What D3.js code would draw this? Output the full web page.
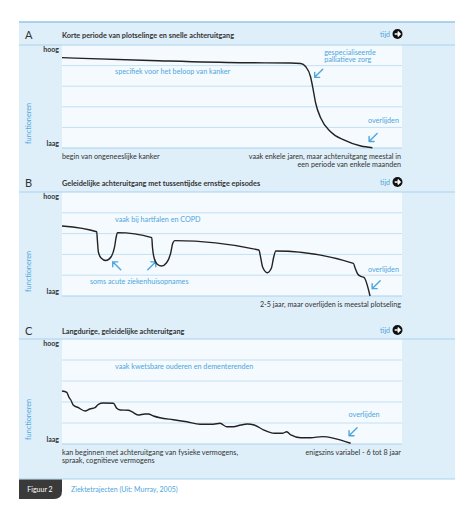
<!DOCTYPE html>
<html>
<head>
<meta charset="utf-8">
<script src="https://cdn.jsdelivr.net/npm/d3@7"></script>
<style>
  body { margin: 0; background: #fff; }
  text { font-family: Lato, "Noto Sans", sans-serif; }
</style>
</head>
<body>
<div id="chart"></div>
<script>
// --- data (t = tijd 0..100, v = functioneren 0..100) ---
const letters = ["A", "B", "C"];
const titles = [
  "Korte periode van plotselinge en snelle achteruitgang",
  "Geleidelijke achteruitgang met tussentijdse ernstige episodes",
  "Langdurige, geleidelijke achteruitgang"
];
const leftCaptions = [
  ["begin van ongeneeslijke kanker"],
  [],
  ["kan beginnen met achteruitgang van fysieke vermogens,", "spraak, cognitieve vermogens"]
];
const rightCaptions = [
  ["vaak enkele jaren, maar achteruitgang meestal in", "een periode van enkele maanden"],
  ["2-5 jaar, maar overlijden is meestal plotseling"],
  ["enigszins variabel - 6 tot 8 jaar"]
];
const yLabels = ["hoog", "laag"];

const seriesA = [
  [0, 87.7], [25.9, 85.0], [52.4, 82.8], [67.1, 82.5], [70.2, 82.0], [71.7, 78.9],
  [73.1, 69.2], [73.9, 56.3], [74.6, 43.7], [76.1, 29.1], [79.0, 15.8], [82.9, 7.8],
  [87.9, 1.9], [91.3, 0.3]
];
const seriesB = [
  [0, 67.3], [10.2, 61.8], [10.4, 53.8], [10.7, 42.3], [11.5, 36.5], [12.9, 34.1],
  [14.4, 37.5], [15.4, 46.2], [16.0, 57.7], [16.3, 60.9], [26.4, 56.1], [26.6, 47.1],
  [27.1, 36.5], [28.1, 30.3], [29.3, 28.8], [30.7, 31.7], [31.9, 40.4], [32.6, 51.0],
  [33.2, 53.2], [57.9, 44.2], [58.4, 37.5], [59.0, 27.9], [60.4, 22.4], [61.6, 26.9],
  [62.2, 36.5], [62.9, 43.3], [85.7, 31.4], [86.2, 26.9], [86.9, 21.6], [87.9, 18.8],
  [88.8, 18.0], [90.6, 0]
];
const seriesC = [
  [0, 50.5], [1.4, 49.2], [2.1, 44.1], [2.6, 41.9], [3.3, 37.1], [4.8, 34.6], [6.8, 31.4],
  [8.2, 33.3], [9.7, 34.6], [10.7, 37.8], [12.1, 39.0], [15.1, 38.8], [16.1, 34.0],
  [17.1, 32.4], [19.5, 32.1], [20.5, 30.8], [22.4, 27.6], [24.4, 28.6], [25.4, 28.6],
  [26.9, 26.7], [28.8, 25.0], [32.7, 23.1], [36.7, 21.2], [40.6, 18.8], [44.5, 18.8],
  [46.5, 19.7], [48.4, 16.5], [50.4, 16.5], [52.6, 18.1], [54.5, 19.0], [56.5, 18.1],
  [59.4, 13.3], [62.4, 10.2], [64.8, 10.2], [66.1, 11.7], [67.3, 8.6], [70.2, 6.0],
  [73.1, 6.0], [76.6, 7.0], [80.0, 5.4], [84.9, 0.7]
];
const series = [seriesA, seriesB, seriesC];

// annotations: [t, v, text lines, anchor]
const notes = [
  [[15.6, 71.8, ["specifiek voor het beloop van kanker"], "start"],
   [77.1, 90.3, ["gespecialiseerde", "palliatieve zorg"], "start"],
   [99.1, 24.0, ["overlijden"], "end"]],
  [[15.6, 70.8, ["vaak bij hartfalen en COPD"], "start"],
   [8.2, 11.5, ["soms acute ziekenhuisopnames"], "start"],
   [99.1, 23.4, ["overlijden"], "end"]],
  [[15.6, 71.4, ["vaak kwetsbare ouderen en dementerenden"], "start"],
   [93.4, 25.4, ["overlijden"], "end"]]
];
// arrows: [t, v, direction]
const arrows = [
  [[75.5, 72.5, "sw"], [91.5, 10.2, "sw"]],
  [[16.1, 29.0, "nw"], [26.4, 29.0, "ne"], [92.4, 10.9, "sw"]],
  [[85.6, 11.7, "sw"]]
];

const footerTab = "Figuur 2";
const footerText = "Ziektetrajecten (Uit: Murray, 2005)";

// --- layout ---
const W = 474, H = 513;
const boxL = 19, boxR = 455, plotL = 62, plotR = 402;
const panels = [
  { top: 22, plotTop: 45, plotBot: 148 },
  { top: 170, plotTop: 192, plotBot: 296 },
  { top: 318, plotTop: 339, plotBot: 444 }
];
const boxBottom = 479;

const dark = "#333";
const blue = "#4ea6dd";
const gridCol = "#c3e0f3";

const svg = d3.select("#chart").append("svg")
  .attr("width", W).attr("height", H)
  .attr("viewBox", `0 0 ${W} ${H}`);

svg.append("rect")
  .attr("x", boxL).attr("y", 22)
  .attr("width", boxR - boxL).attr("height", boxBottom - 22)
  .attr("fill", "#deeffa");
svg.append("line")
  .attr("x1", boxL).attr("x2", boxR).attr("y1", 22).attr("y2", 22)
  .attr("stroke", "#93c6e6").attr("stroke-width", 1.6);
svg.append("line")
  .attr("x1", boxL).attr("x2", boxR).attr("y1", boxBottom).attr("y2", boxBottom)
  .attr("stroke", "#a9d3ef").attr("stroke-width", 1);

const x = d3.scaleLinear().domain([0, 100]).range([plotL, plotR]);

function arrowPath(cx, cy, dir) {
  const s = 4, h = 5;
  const dx = dir.includes("e") ? 1 : -1;
  const dy = dir.includes("s") ? 1 : -1;
  const tipX = cx + dx * s, tipY = cy + dy * s;
  return `M${cx - dx * s},${cy - dy * s}L${tipX},${tipY}` +
    `M${tipX},${tipY - dy * h}L${tipX},${tipY}L${tipX - dx * h},${tipY}`;
}

panels.forEach((p, i) => {
  const g = svg.append("g");
  const y = d3.scaleLinear().domain([0, 100]).range([p.plotBot, p.plotTop]);

  // plot background
  g.append("rect")
    .attr("x", plotL).attr("y", p.plotTop)
    .attr("width", plotR - plotL).attr("height", p.plotBot - p.plotTop)
    .attr("fill", "#f5fafe");

  // grid
  g.append("g")
    .selectAll("line")
    .data([20, 40, 60, 80])
    .join("line")
    .attr("x1", plotL).attr("x2", plotR)
    .attr("y1", d => y(d)).attr("y2", d => y(d))
    .attr("stroke", gridCol).attr("stroke-width", 1);
  g.append("g")
    .selectAll("line")
    .data([0, 100])
    .join("line")
    .attr("x1", d => d === 100 ? boxL : plotL).attr("x2", d => d === 100 ? boxR : plotR)
    .attr("y1", d => y(d)).attr("y2", d => y(d))
    .attr("stroke", "#a8d2ee").attr("stroke-width", 1.2);

  // header
  g.append("text")
    .attr("x", 25).attr("y", p.top + 17)
    .attr("font-size", 11).attr("fill", dark)
    .text(letters[i]);
  g.append("text")
    .attr("x", plotL).attr("y", p.top + 15.5)
    .attr("font-size", 7.3).attr("font-weight", "bold").attr("fill", dark)
    .text(titles[i]);
  g.append("text")
    .attr("x", 390).attr("y", p.top + 14.5)
    .attr("text-anchor", "end")
    .attr("font-size", 7).attr("fill", blue)
    .text("tijd");
  const ac = g.append("g").attr("transform", `translate(397.5,${p.top + 12})`);
  ac.append("circle").attr("r", 5).attr("fill", "#111");
  ac.append("path")
    .attr("d", "M-2.8,0H2.5M0.2,-2.4L2.6,0L0.2,2.4")
    .attr("fill", "none").attr("stroke", "#fff").attr("stroke-width", 1.5);

  // y labels
  g.append("text")
    .attr("x", 59).attr("y", p.plotTop + 6.5)
    .attr("text-anchor", "end").attr("font-size", 7).attr("font-weight", "bold").attr("fill", dark)
    .text(yLabels[0]);
  g.append("text")
    .attr("x", 59).attr("y", p.plotBot - 2.5)
    .attr("text-anchor", "end").attr("font-size", 7).attr("font-weight", "bold").attr("fill", dark)
    .text(yLabels[1]);
  g.append("text")
    .attr("transform", `translate(31,${p.plotBot - 4}) rotate(-90)`)
    .attr("font-size", 7.3).attr("fill", blue)
    .text("functioneren");

  // captions
  g.append("g").selectAll("text")
    .data(leftCaptions[i])
    .join("text")
    .attr("x", plotL).attr("y", (d, k) => p.plotBot + 11 + k * 8)
    .attr("font-size", 7.2).attr("fill", dark)
    .text(d => d);
  g.append("g").selectAll("text")
    .data(rightCaptions[i])
    .join("text")
    .attr("x", plotR - 1).attr("y", (d, k) => p.plotBot + 11 + k * 8)
    .attr("text-anchor", "end")
    .attr("font-size", 7.2).attr("fill", dark)
    .text(d => d);

  // annotations
  notes[i].forEach(n => {
    g.append("g").selectAll("text")
      .data(n[2])
      .join("text")
      .attr("x", x(n[0])).attr("y", (d, k) => y(n[1]) + k * 7.5)
      .attr("text-anchor", n[3])
      .attr("font-size", 7.2).attr("fill", blue)
      .text(d => d);
  });
  g.append("g").selectAll("path")
    .data(arrows[i])
    .join("path")
    .attr("d", d => arrowPath(x(d[0]), y(d[1]), d[2]))
    .attr("fill", "none").attr("stroke", blue)
    .attr("stroke-width", 1.4).attr("stroke-linecap", "round").attr("stroke-linejoin", "round");

  // the curve
  const line = d3.line()
    .x(d => x(d[0]))
    .y(d => y(d[1]))
    .curve(d3.curveMonotoneX);
  g.append("path")
    .datum(series[i])
    .attr("d", line)
    .attr("fill", "none")
    .attr("stroke", "#222")
    .attr("stroke-width", 1.4);
});

// footer
svg.append("path")
  .attr("d", `M${boxL},${boxBottom + 0.5}H62V${boxBottom + 12}Q62,${boxBottom + 20} 54,${boxBottom + 20}H${boxL}Z`)
  .attr("fill", "#3a3a3a");
svg.append("text")
  .attr("x", 40).attr("y", boxBottom + 12.5)
  .attr("text-anchor", "middle")
  .attr("font-size", 7).attr("fill", "#fff")
  .text(footerTab);
svg.append("text")
  .attr("x", 71).attr("y", boxBottom + 12.5)
  .attr("font-size", 7).attr("fill", blue)
  .text(footerText);
</script>
</body>
</html>
